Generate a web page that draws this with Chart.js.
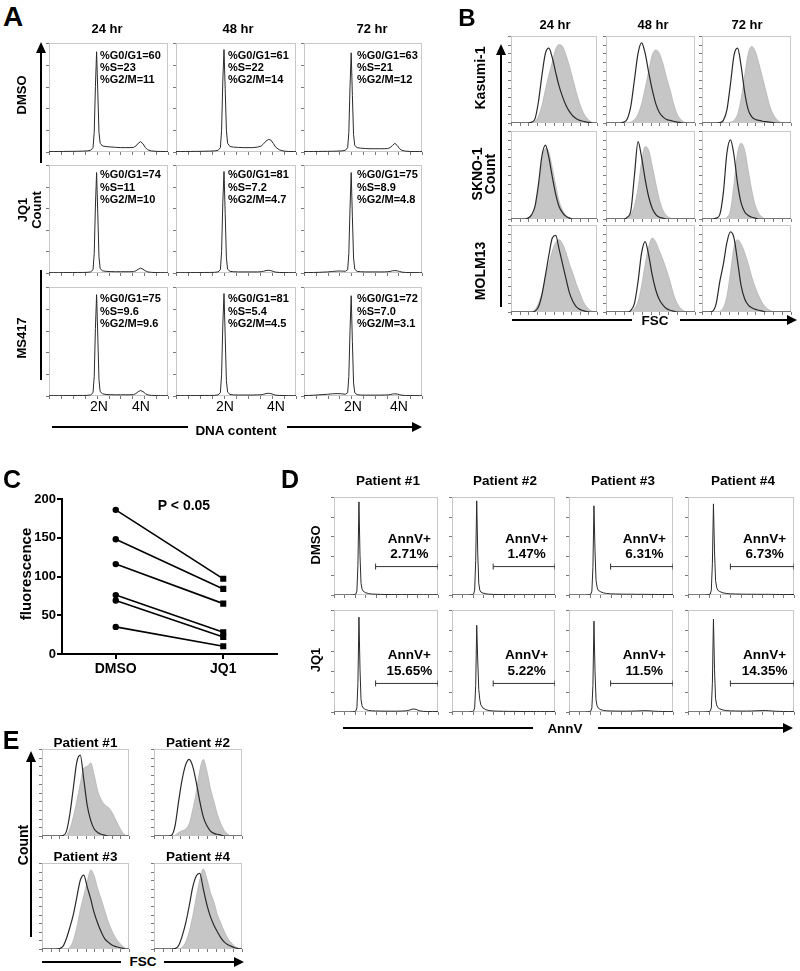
<!DOCTYPE html>
<html>
<head>
<meta charset="utf-8">
<script src="https://cdn.jsdelivr.net/npm/chart.js@4.4.1/dist/chart.umd.min.js"></script>
<style>
body{margin:0;background:#fff;}
#page{position:relative;width:800px;height:971px;overflow:hidden;font-family:"Liberation Sans",Arial,sans-serif;}
.t{position:absolute;white-space:nowrap;font-weight:bold;color:#000;line-height:1;}
canvas{position:absolute;}
svg{position:absolute;left:0;top:0;}
</style>
</head>
<body>
<div id="page"></div>
<script>
// ---- panel A: cell cycle histograms (x = DNA channel, 0-100) ----
const xA = [0,4,8,12,16,20,24,28,32,35,37,38,39,40,41,42,43,45,48,52,56,60,64,68,71,73,75,77,79,81,83,86,90,94,98,100];
const aDmso24 = [0.4,0.4,0.5,0.5,0.6,0.6,0.7,0.8,1,1.5,4,18,60,92,55,18,8,5.5,5,4.6,4.3,4,4,4,4.2,5.5,8,9.5,7.5,4,2,1,0.6,0.5,0.4,0.4];
const aDmso48 = [0.4,0.4,0.5,0.5,0.6,0.6,0.7,0.8,1,1.5,4,20,65,94,58,20,8,5,4.5,4.2,4,4,4,4.5,5.5,7.5,10,11.5,11,8,4.5,2,0.8,0.5,0.4,0.4];
const aDmso72 = [0.4,0.4,0.5,0.5,0.6,0.6,0.7,0.8,1,1.5,4,18,60,91,52,16,6,4,3.5,3.2,3,3,3,3,3.2,4,6,8,6,3,1.5,0.8,0.5,0.4,0.4,0.4];
const aJq24 = [0.3,0.3,0.3,0.4,0.4,0.4,0.5,0.5,0.6,1,3,18,62,93,55,15,4,2,1.5,1.3,1.2,1.2,1.2,1.2,1.3,2,3.5,4.5,3.5,2,1,0.6,0.4,0.3,0.3,0.3];
const aJq48 = [0.3,0.3,0.3,0.4,0.4,0.4,0.5,0.5,0.6,1,3,20,65,94,55,14,3.5,1.5,1.2,1,1,1,1,1,1.2,1.6,2.2,2.5,2.2,1.5,0.8,0.5,0.4,0.3,0.3,0.3];
const aJq72 = [0.4,0.4,0.5,0.6,0.8,1,1.4,1.8,1.8,1.6,3,18,60,93,52,14,3.5,1.5,1.2,1,1,1,1,1,1.2,1.5,2,2.2,2,1.4,0.8,0.5,0.4,0.4,0.3,0.3];
const aMs24 = [0.3,0.3,0.3,0.4,0.4,0.4,0.5,0.5,0.6,1,3,18,62,93,55,15,4,2,1.4,1.2,1.1,1.1,1.1,1.1,1.3,2.2,4,5,4,2.2,1,0.6,0.4,0.3,0.3,0.3];
const aMs48 = [0.3,0.3,0.3,0.4,0.4,0.4,0.5,0.5,0.6,1,3,20,65,94,55,14,3.5,1.4,1,0.9,0.9,0.9,0.9,1,1.2,1.6,2.2,2.5,2.2,1.5,0.8,0.5,0.4,0.3,0.3,0.3];
const aMs72 = [0.4,0.5,0.7,1,1.3,1.6,2,2.2,2,1.6,3,18,60,92,50,12,3,1.2,0.9,0.8,0.8,0.8,0.8,0.9,1,1.3,1.8,2,1.8,1.2,0.7,0.5,0.4,0.4,0.3,0.3];
const aStats = [
  ['%G0/G1=60','%S=23','%G2/M=11'], ['%G0/G1=61','%S=22','%G2/M=14'], ['%G0/G1=63','%S=21','%G2/M=12'],
  ['%G0/G1=74','%S=11','%G2/M=10'], ['%G0/G1=81','%S=7.2','%G2/M=4.7'], ['%G0/G1=75','%S=8.9','%G2/M=4.8'],
  ['%G0/G1=75','%S=9.6','%G2/M=9.6'], ['%G0/G1=81','%S=5.4','%G2/M=4.5'], ['%G0/G1=72','%S=7.0','%G2/M=3.1']
];
const timeLabels = ['24 hr','48 hr','72 hr'];

// ---- panel B: FSC overlays (open = treated, grey = control) ----
const xB = [0,4,8,12,16,20,24,28,32,36,40,44,48,52,56,60,64,68,72,76,80,84,88,92,96,100];
const kas24Open = [0,0,0,0,0,0,1,5,25,55,80,86,75,58,42,30,20,13,8,5,3,2,1,0.5,0,0];
const kas24Gray = [0,0,0,0,0,0,0.5,2,8,20,38,55,70,85,90,88,78,65,50,35,22,12,6,2,0.5,0];
const kas48Open = [0,0,0,0,0,1,5,20,50,80,92,80,58,38,22,12,7,4,3,2,1,0.5,0,0,0,0];
const kas48Gray = [0,0,0,0,0,0,0,1,4,10,22,40,60,78,84,80,68,52,38,22,10,4,1,0,0,0];
const kas72Open = [0,0,0,0,0,0.5,3,15,45,78,86,65,35,15,7,4,3,2,1.5,1,0.5,0,0,0,0,0];
const kas72Gray = [0,0,0,0,0,0,0,0,1,3,10,28,55,80,88,82,68,52,36,20,10,4,1,0,0,0];
const sk24Open = [0,0,0,0,0,1,5,15,40,72,84,70,48,28,14,7,3,1,0,0,0,0,0,0,0,0];
const sk24Gray = [0,0,0,0,0,1,4,12,35,65,80,76,58,38,20,10,4,1.5,0.5,0,0,0,0,0,0,0];
const sk48Open = [0,0,0,0,0,0,2,10,50,88,70,45,25,12,5,2,1,0,0,0,0,0,0,0,0,0];
const sk48Gray = [0,0,0,0,0,0,1,5,15,35,65,82,78,60,40,22,10,4,1,0,0,0,0,0,0,0];
const sk72Open = [0,0,0,0,1,5,30,75,90,72,40,18,8,4,2,1,0,0,0,0,0,0,0,0,0,0];
const sk72Gray = [0,0,0,0,0,0,0,2,10,40,75,86,78,55,32,15,6,2,0,0,0,0,0,0,0,0];
const mo24Open = [0,0,0,0,0,0,0,1,6,20,42,65,85,88,72,55,38,22,12,6,3,1.5,0.5,0,0,0];
const mo24Gray = [0,0,0,0,0,0,0.5,3,10,22,38,55,70,80,83,78,68,55,44,32,22,12,6,2,0.5,0];
const mo48Open = [0,0,0,0,0,0,0,2,10,35,68,81,65,42,25,14,8,4,2,1,0,0,0,0,0,0];
const mo48Gray = [0,0,0,0,0,0,0,1,4,12,30,55,75,85,80,70,60,48,35,20,10,4,1,0,0,0];
const mo72Open = [0,0,0,1,10,35,55,80,92,85,58,30,15,8,5,3,2,1,0,0,0,0,0,0,0,0];
const mo72Gray = [0,0,0,0,0,1,5,18,45,75,83,78,68,55,40,28,18,10,5,2,0.5,0,0,0,0,0];
const cellLines = [['Kasumi-1'],['SKNO-1','Count'],['MOLM13']];

// ---- panel C: paired fluorescence ----
const cCats = ['DMSO','JQ1'];
const cDmso = [186,148,116,76,69,35];
const cJq1 = [97,84,65,28,22,10];
const cTicks = [0,50,100,150,200];

// ---- panel D: AnnV histograms ----
const xD = [0,5,10,15,18,20,21,22,23,24,25,26,27,28,30,33,36,40,45,50,55,60,65,70,73,76,79,82,86,90,95,100];
const dDmso1 = [0,0,0,0,0.2,0.5,1,4,30,95,40,12,6,4,2.5,1.5,1,0.8,0.6,0.5,0.5,0.4,0.4,0.4,0.4,0.4,0.4,0.3,0.3,0.3,0.3,0.3];
const dDmso2 = [0,0,0,0,0.2,0.5,1,5,35,96,42,12,5,3,2,1.2,0.8,0.6,0.5,0.4,0.4,0.3,0.3,0.3,0.3,0.3,0.3,0.3,0.3,0.3,0.3,0.3];
const dDmso3 = [0,0,0,0,0.2,0.5,1,4,28,91,45,15,8,5,3.5,2.2,1.6,1.2,1,0.9,0.8,0.8,0.7,0.7,0.7,0.6,0.6,0.6,0.5,0.5,0.5,0.5];
const dDmso4 = [0,0,0,0,0.2,0.5,1,5,32,93,45,15,8,5,3.5,2.2,1.6,1.2,1,0.9,0.8,0.8,0.7,0.7,0.7,0.7,0.6,0.6,0.5,0.5,0.5,0.5];
const dJq1 = [0,0,0,0,0.2,0.5,1,4,28,93,42,12,6,4,2.5,1.6,1.2,1,0.9,0.8,0.8,0.8,0.9,1.2,2,3,2.6,1.2,0.6,0.5,0.4,0.4];
const dJq2 = [0,0,0,0,0.2,0.5,1,4,26,85,50,22,12,7,4,2.2,1.4,1,0.8,0.7,0.6,0.6,0.5,0.5,0.5,0.5,0.5,0.4,0.4,0.4,0.4,0.4];
const dJq3 = [0,0,0,0,0.2,0.5,1,4,26,89,40,12,6,4,2.5,1.6,1.2,1,0.9,0.8,0.8,0.9,1,1.2,1.3,1.2,1,0.8,0.6,0.5,0.4,0.4];
const dJq4 = [0,0,0,0,0.2,0.5,1,4,28,91,42,13,7,4.5,3,2,1.4,1.1,1,0.9,0.9,1,1.2,1.4,1.5,1.3,1,0.8,0.6,0.5,0.4,0.4];
const gateX = [40,100];
const gateY = [29,28];
const annDmso = ['2.71%','1.47%','6.31%','6.73%'];
const annJq1 = ['15.65%','5.22%','11.5%','14.35%'];
const patients = ['Patient #1','Patient #2','Patient #3','Patient #4'];

// ---- panel E: patient FSC overlays ----
const e1Open = [0,0,0,0,0,0,0.5,5,25,55,85,93,65,35,18,8,4,2,1,0,0,0,0,0,0,0];
const e1Gray = [0,0,0,0,0,0,0,1,8,22,40,60,78,80,84,70,52,42,36,33,28,20,12,5,1,0];
const e2Open = [0,0,0,0,0,1,12,40,65,82,88,80,62,40,22,12,6,3,2,1,0,0,0,0,0,0];
const e2Gray = [0,0,0,0,0,0,1,4,6,8,14,30,50,75,88,75,55,40,25,14,6,2,0,0,0,0];
const e3Open = [0,0,0,0,0,0.5,3,12,25,40,60,80,86,72,58,42,30,20,12,8,5,3,2,1,0,0];
const e3Gray = [0,0,0,0,0,0,0,0,2,10,25,45,62,78,92,85,70,58,45,32,22,14,8,4,1,0];
const e4Open = [0,0,0,0,0,0,0.5,4,15,30,50,72,85,88,70,52,38,28,20,13,8,5,3,1.5,0.5,0];
const e4Gray = [0,0,0,0,0,0,0,0,2,8,20,38,60,80,93,82,66,55,40,30,20,12,7,3,1,0];

Chart.defaults.font.family = '"Liberation Sans", Arial, sans-serif';
const page = document.getElementById('page');

function label(s, x, y, size, o) {
  o = o || {};
  const d = document.createElement('div');
  d.className = 't';
  d.textContent = s;
  d.style.fontSize = size + 'px';
  d.style.left = x + 'px';
  d.style.top = y + 'px';
  let tr = o.left ? 'translate(0,-50%)' : 'translate(-50%,-50%)';
  if (o.rot) tr += ' rotate(-90deg)';
  if (o.normal) d.style.fontWeight = 'normal';
  d.style.transform = tr;
  page.appendChild(d);
}

// frame + small ticks around each histogram box
const frame = {
  id: 'frame',
  beforeDatasetsDraw(ch, args, opt) {
    const {ctx, chartArea: a, scales: {x, y}} = ch;
    ctx.save();
    ctx.strokeStyle = '#c8c8c8';
    ctx.lineWidth = 1;
    ctx.strokeRect(a.left + 0.5, a.top + 0.5, a.right - a.left - 1, a.bottom - a.top - 1);
    ctx.strokeStyle = '#7a7a7a';
    ctx.beginPath();
    for (let v = 0; v <= 100; v += opt.yStep) {
      const py = Math.round(y.getPixelForValue(v)) + 0.5;
      ctx.moveTo(a.left - 3, py); ctx.lineTo(a.left, py);
    }
    for (let v = 0; v <= 100; v += opt.xStep) {
      const px = Math.round(x.getPixelForValue(v)) + 0.5;
      ctx.moveTo(px, a.bottom); ctx.lineTo(px, a.bottom + 3);
    }
    ctx.stroke();
    ctx.restore();
  }
};

function makeHist(box, datasets, steps) {
  const c = document.createElement('canvas');
  c.width = box[2] + 5; c.height = box[3] + 5;
  c.style.left = (box[0] - 4) + 'px';
  c.style.top = (box[1] - 1) + 'px';
  page.appendChild(c);
  new Chart(c, {
    type: 'line',
    data: {datasets: datasets},
    options: {
      responsive: false, animation: false, events: [],
      layout: {padding: {left: 4, top: 1, right: 1, bottom: 4}},
      plugins: {legend: {display: false}, tooltip: {enabled: false}, frame: steps},
      scales: {
        x: {type: 'linear', min: 0, max: 100, display: false},
        y: {min: 0, max: 100, display: false}
      }
    },
    plugins: [frame]
  });
}

const pts = (xs, ys) => xs.map((v, i) => ({x: v, y: ys[i]}));
const sharp = (xs, ys) => ({data: pts(xs, ys), borderColor: '#2a2a2a', borderWidth: 1, pointRadius: 0, tension: 0});
const openLine = (ys) => ({data: pts(xB, ys), borderColor: '#2a2a2a', borderWidth: 1.2, pointRadius: 0, cubicInterpolationMode: 'monotone', fill: false});
const grayFill = (ys) => ({data: pts(xB, ys), borderColor: '#b4b4b4', borderWidth: 0.8, backgroundColor: '#c6c6c6', pointRadius: 0, cubicInterpolationMode: 'monotone', fill: 'origin'});

// ---------- Panel A ----------
const colsA = [[49,119],[176,120],[304,118]];
const rowsA = [[43,109],[165,108],[287,109]];
const seriesA = [aDmso24, aDmso48, aDmso72, aJq24, aJq48, aJq72, aMs24, aMs48, aMs72];
const statX = [100, 228, 357];
const statY = [[55,67,79],[174,187,199],[298,311,323]];
rowsA.forEach((r, ri) => colsA.forEach((c, ci) => {
  makeHist([c[0], r[0], c[1], r[1]], [sharp(xA, seriesA[ri * 3 + ci])], {xStep: 10, yStep: 20});
  aStats[ri * 3 + ci].forEach((s, k) => label(s, statX[ci], statY[ri][k], 11, {left: true}));
}));
label('A', 13, 17, 28);
[107, 238, 372].forEach((x, i) => label(timeLabels[i], x, 28, 13));
label('DMSO', 21, 95, 13, {rot: true});
label('JQ1', 22, 210, 13, {rot: true});
label('Count', 36, 210, 13, {rot: true});
label('MS417', 21, 338, 13, {rot: true});
[[99,141],[225,276],[353,399]].forEach(p => { label('2N', p[0], 406, 14, {normal: true}); label('4N', p[1], 406, 14, {normal: true}); });
label('DNA content', 236, 431, 13.5);

// ---------- Panel B ----------
const colsB = [[511,86],[606,89],[702,89]];
const rowsB = [[36,87],[131,88],[225,87]];
const seriesB = [[kas24Open,kas24Gray],[kas48Open,kas48Gray],[kas72Open,kas72Gray],
  [sk24Open,sk24Gray],[sk48Open,sk48Gray],[sk72Open,sk72Gray],
  [mo24Open,mo24Gray],[mo48Open,mo48Gray],[mo72Open,mo72Gray]];
rowsB.forEach((r, ri) => colsB.forEach((c, ci) => {
  const s = seriesB[ri * 3 + ci];
  makeHist([c[0], r[0], c[1], r[1]], [openLine(s[0]), grayFill(s[1])], {xStep: 10, yStep: 10});
}));
label('B', 467, 18, 24);
[555, 653, 747].forEach((x, i) => label(timeLabels[i], x, 24, 13));
label(cellLines[0][0], 480, 78, 14, {rot: true});
label(cellLines[1][0], 477, 174, 14, {rot: true});
label(cellLines[1][1], 490, 174, 14, {rot: true});
label(cellLines[2][0], 480, 271, 14, {rot: true});
label('FSC', 655, 321, 13.5);

// ---------- Panel C ----------
const cC = document.createElement('canvas');
cC.width = 285; cC.height = 200;
cC.style.left = '0px'; cC.style.top = '490px';
page.appendChild(cC);
new Chart(cC, {
  type: 'line',
  data: {
    labels: cCats,
    datasets: cDmso.map((v, i) => ({
      data: [v, cJq1[i]],
      borderColor: '#000', borderWidth: 1.6,
      pointStyle: ['circle', 'rect'], pointRadius: [3.2, 4.3],
      pointBackgroundColor: '#000', pointBorderColor: '#000', pointBorderWidth: 0
    }))
  },
  options: {
    responsive: false, animation: false, events: [],
    layout: {padding: {left: 0, top: 9, right: 8, bottom: 0}},
    plugins: {legend: {display: false}, tooltip: {enabled: false}},
    scales: {
      x: {
        offset: true,
        grid: {drawOnChartArea: false, tickLength: 5, color: '#000', lineWidth: 2},
        border: {color: '#000', width: 2},
        ticks: {font: {size: 14, weight: 'bold'}, color: '#000', padding: 2},
        afterFit: s => { s.height = 36; }
      },
      y: {
        min: 0, max: 200,
        afterBuildTicks: s => { s.ticks = cTicks.map(v => ({value: v})); },
        grid: {drawOnChartArea: false, tickLength: 5, color: '#000', lineWidth: 2},
        border: {color: '#000', width: 2},
        ticks: {font: {size: 13, weight: 'bold'}, color: '#000', padding: 1},
        afterFit: s => { s.width = 62; }
      }
    }
  }
});
label('C', 12, 479, 25);
label('fluorescence', 25, 574, 15, {rot: true});
label('P < 0.05', 184, 505, 14);

// ---------- Panel D ----------
const colsD = [[333,109],[451,108],[568,109],[687,111]];
const rowsD = [[493,103],[606,107]];
const seriesD = [[dDmso1,dDmso2,dDmso3,dDmso4],[dJq1,dJq2,dJq3,dJq4]];
const annD = [annDmso, annJq1];
const annY = [[539,554],[655,671]];
rowsD.forEach((r, ri) => colsD.forEach((c, ci) => {
  const gate = {data: gateX.map(g => ({x: g, y: gateY[ri]})), borderColor: '#333', borderWidth: 1,
    pointStyle: 'line', pointRotation: 90, pointRadius: 3, pointBorderColor: '#333', pointBorderWidth: 1};
  makeHist([c[0], r[0], c[1], r[1]], [sharp(xD, seriesD[ri][ci]), gate], {xStep: 10, yStep: 20});
  const cx = c[0] + c[1] * 0.70;
  label('AnnV+', cx, annY[ri][0], 13.5);
  label(annD[ri][ci], cx, annY[ri][1], 13.5);
}));
label('D', 290, 479, 25);
[388, 505, 623, 743].forEach((x, i) => label(patients[i], x, 481, 13.5));
label('DMSO', 315, 545, 13, {rot: true});
label('JQ1', 315, 660, 13, {rot: true});
label('AnnV', 565, 729, 13.5);

// ---------- Panel E ----------
const colsE = [[42,87],[154,88]];
const rowsE = [[749,87],[863,86]];
const seriesE = [[e1Open,e1Gray],[e2Open,e2Gray],[e3Open,e3Gray],[e4Open,e4Gray]];
const titleEY = [743, 857];
rowsE.forEach((r, ri) => colsE.forEach((c, ci) => {
  const s = seriesE[ri * 2 + ci];
  makeHist([c[0], r[0], c[1], r[1]], [openLine(s[0]), grayFill(s[1])], {xStep: 10, yStep: 10});
  label(patients[ri * 2 + ci], c[0] + c[1] / 2, titleEY[ri], 13.5);
}));
label('E', 11, 740, 25);
label('Count', 23, 845, 14, {rot: true});
label('FSC', 143, 962, 13.5);

// ---------- axis arrows ----------
const ns = 'http://www.w3.org/2000/svg';
const svg = document.createElementNS(ns, 'svg');
svg.setAttribute('width', 800); svg.setAttribute('height', 971);
const lines = [
  [41,50,41,163],[41,270,41,380],
  [52,427,188,427],[287,427,413,427],
  [501,52,501,307],
  [512,320,632,320],[680,320,788,320],
  [343,728,533,728],[598,728,783,728],
  [31,760,31,937],
  [42,962,121,962],[164,962,235,962]
];
const heads = [
  '41,42 36,53 46,53', '422,427 412,422 412,432',
  '501,44 496,55 506,55', '797,320 787,315 787,325',
  '793,728 783,723 783,733', '31,751 26,762 36,762',
  '244,962 234,957 234,967'
];
lines.forEach(l => {
  const e = document.createElementNS(ns, 'line');
  e.setAttribute('x1', l[0]); e.setAttribute('y1', l[1]);
  e.setAttribute('x2', l[2]); e.setAttribute('y2', l[3]);
  e.setAttribute('stroke', '#000'); e.setAttribute('stroke-width', 2);
  svg.appendChild(e);
});
heads.forEach(p => {
  const e = document.createElementNS(ns, 'polygon');
  e.setAttribute('points', p); e.setAttribute('fill', '#000');
  svg.appendChild(e);
});
page.appendChild(svg);
</script>
</body>
</html>
